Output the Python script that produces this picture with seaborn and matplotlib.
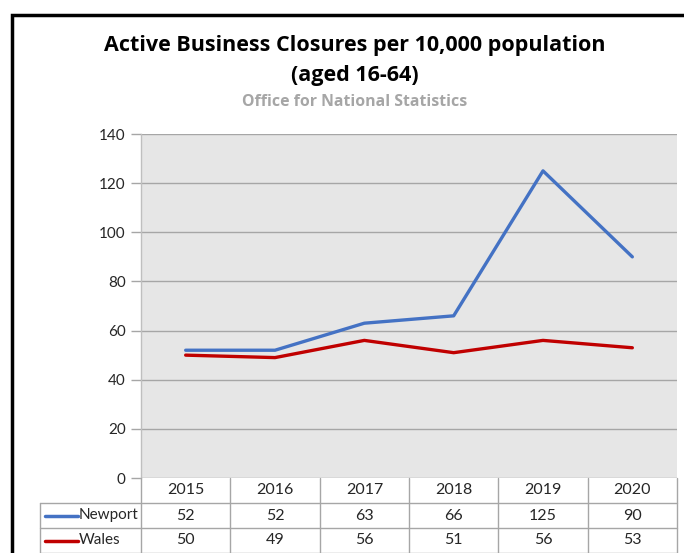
import seaborn as sns
import numpy as np
import matplotlib.pyplot as plt
import pandas as pd

years = ['2015', '2016', '2017', '2018', '2019', '2020']
newport = [52, 52, 63, 66, 125, 90]
wales = [50, 49, 56, 51, 56, 53]
series_names = ['Newport', 'Wales']
series_colors = ['#4472C4', '#C00000']
y_ticks = [0, 20, 40, 60, 80, 100, 120, 140]

df = pd.DataFrame({'pos': np.arange(len(years)), 'Newport': newport, 'Wales': wales})
long_df = df.melt(id_vars='pos', var_name='area', value_name='value')

sns.set_theme(style='white')
plt.rcParams['font.family'] = ['Lato', 'DejaVu Sans']

W, H = 684, 553
fig = plt.figure(figsize=(W / 100, H / 100), dpi=100, facecolor='white')

# plot area in pixel terms
px_left, px_right, px_top, px_bottom = 141, 677, 134, 478
ax = fig.add_axes([px_left / W, 1 - px_bottom / H,
                   (px_right - px_left) / W, (px_bottom - px_top) / H])
ax.set_facecolor('#e6e6e6')

sns.lineplot(data=long_df, x='pos', y='value', hue='area', palette=series_colors,
             linewidth=2.4, ax=ax, legend=False)

ax.set_xlim(-0.5, len(years) - 0.5)
ax.set_ylim(0, 140)
ax.set_yticks(y_ticks)
ax.set_yticklabels([str(t) for t in y_ticks], fontsize=11, color='#262626')
ax.set_xticks([])
ax.set_xlabel('')
ax.set_ylabel('')
ax.yaxis.grid(True, color='#a6a6a6', linewidth=1)
ax.set_axisbelow(True)
ax.tick_params(axis='y', length=7, width=1, color='#a6a6a6', direction='out', pad=4, left=True)
for side in ['top', 'right', 'bottom']:
    ax.spines[side].set_visible(False)
ax.spines['left'].set_color('#bfbfbf')
ax.spines['left'].set_linewidth(1)

# data table below, sharing the x scale
tab = fig.add_axes([px_left / W, 0, (px_right - px_left) / W, (H - px_bottom) / H])
tab.set_xlim(ax.get_xlim())
tab.set_ylim(3, 0)
tab.axis('off')
col_w = (px_right - px_left) / len(years)
label_left = -0.5 - (px_left - 40) / col_w
line_kw = dict(color='#a6a6a6', linewidth=1, clip_on=False)

for i, yr in enumerate(years):
    tab.text(i, 0.5, yr, ha='center', va='center', fontsize=11.5, color='#262626')
    tab.text(i, 1.5, str(newport[i]), ha='center', va='center', fontsize=11.5, color='#262626')
    tab.text(i, 2.5, str(wales[i]), ha='center', va='center', fontsize=11.5, color='#262626')
for k in range(len(years) + 1):
    tab.plot([k - 0.5, k - 0.5], [0, 3], **line_kw)
tab.plot([label_left, label_left], [1, 3], **line_kw)
for r in [1, 2, 3]:
    tab.plot([label_left, len(years) - 0.5], [r, r], **line_kw)

for r, (name, col) in enumerate(zip(series_names, series_colors)):
    y = 1.5 + r
    tab.plot([label_left + 5 / col_w, label_left + 38 / col_w], [y, y],
             color=col, linewidth=2.5, clip_on=False)
    tab.text(label_left + 39 / col_w, y, name, ha='left', va='center',
             fontsize=11, color='#262626')

# titles
title_font = ['Open Sans', 'DejaVu Sans']
fig.text(355 / W, 1 - 45 / H, 'Active Business Closures per 10,000 population',
         ha='center', va='center', fontsize=15.5, fontweight='bold', color='black',
         family=title_font)
fig.text(355 / W, 1 - 75 / H, '(aged 16-64)',
         ha='center', va='center', fontsize=15.5, fontweight='bold', color='black',
         family=title_font)
fig.text(355 / W, 1 - 102 / H, 'Office for National Statistics',
         ha='center', va='center', fontsize=11.4, fontweight='bold', color='#a6a6a6',
         family=title_font)

# outer frame (left and top edges visible)
frame = fig.add_axes([0, 0, 1, 1], facecolor='none')
frame.set_xlim(0, W)
frame.set_ylim(H, 0)
frame.axis('off')
frame.plot([11.5, 11.5, W], [H, 14.5, 14.5], color='black', linewidth=2.5,
           solid_joinstyle='miter')

fig.savefig('out.png', dpi=100, facecolor='white')
